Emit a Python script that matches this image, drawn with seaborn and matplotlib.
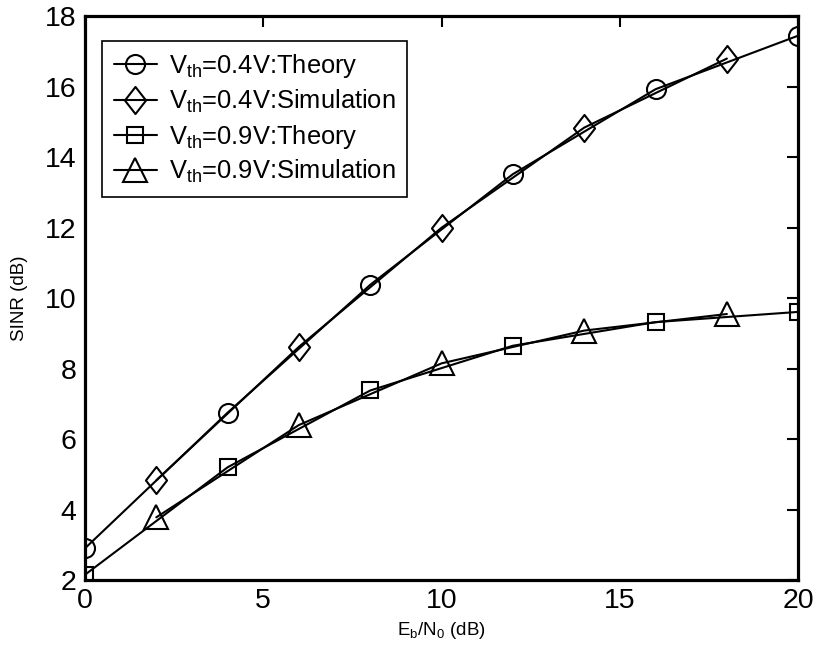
import numpy as np
import pandas as pd
import seaborn as sns
import matplotlib.pyplot as plt
from matplotlib.path import Path

# Eb/N0 points (dB)
ebn0_theory = [0, 4, 8, 12, 16, 20]
ebn0_sim = [2, 6, 10, 14, 18]

# SINR (dB)
sinr_04_theory = [2.9, 6.75, 10.38, 13.52, 15.93, 17.45]
sinr_04_sim = [4.83, 8.62, 12.0, 14.84, 16.8]
sinr_09_theory = [2.15, 5.2, 7.38, 8.65, 9.32, 9.61]
sinr_09_sim = [3.78, 6.4, 8.15, 9.08, 9.55]

labels = [r'$\mathregular{V_{th}}$=0.4V:Theory',
          r'$\mathregular{V_{th}}$=0.4V:Simulation',
          r'$\mathregular{V_{th}}$=0.9V:Theory',
          r'$\mathregular{V_{th}}$=0.9V:Simulation']

sns.set_style('white')
plt.rcParams['font.family'] = ['Liberation Sans', 'DejaVu Sans']
plt.rcParams['mathtext.fontset'] = 'custom'
plt.rcParams['mathtext.rm'] = 'Liberation Sans'
plt.rcParams['text.color'] = 'black'
plt.rcParams['axes.labelcolor'] = 'black'
plt.rcParams['xtick.color'] = 'black'
plt.rcParams['ytick.color'] = 'black'

# MATLAB-like narrow diamond
diamond = Path([(0, 1), (0.78, 0), (0, -1), (-0.78, 0), (0, 1)],
               [Path.MOVETO, Path.LINETO, Path.LINETO, Path.LINETO, Path.CLOSEPOLY])

fig = plt.figure(figsize=(8.17, 6.51), dpi=100)
ax = fig.add_axes([0.104, 0.109, 0.873, 0.866])

series = [
    (ebn0_theory, sinr_04_theory, 'o', 13.7),
    (ebn0_sim, sinr_04_sim, diamond, 19.5),
    (ebn0_theory, sinr_09_theory, 's', 12.2),
    (ebn0_sim, sinr_09_sim, '^', 17.0),
]

for (xs, ys, mk, ms), lab in zip(series, labels):
    df = pd.DataFrame({'x': xs, 'y': ys})
    sns.lineplot(data=df, x='x', y='y', ax=ax, color='black', linewidth=1.5,
                 marker=mk, markersize=ms, markerfacecolor='none',
                 markeredgecolor='black', markeredgewidth=1.5, label=lab)

ax.set_xlim(0, 20)
ax.set_ylim(2, 18)
ax.set_xticks(np.arange(0, 21, 5))
ax.set_yticks(np.arange(2, 19, 2))
ax.tick_params(direction='in', length=8, width=1.5, labelsize=20.5,
               top=True, right=True, pad=6)
for s in ax.spines.values():
    s.set_linewidth(2.3)
    s.set_color('black')

ax.set_xlabel(r'$\mathregular{E_b/N_0}$ (dB)', fontsize=13.5, labelpad=4)
ax.set_ylabel('SINR (dB)', fontsize=13.5, labelpad=12)

leg = ax.legend(loc='upper left', bbox_to_anchor=(0.024, 0.957), borderaxespad=0,
                fontsize=18.4, handlelength=1.7, handletextpad=0.45,
                labelspacing=0.3, borderpad=0.45, fancybox=False, framealpha=1)
leg.get_frame().set_edgecolor('black')
leg.get_frame().set_linewidth(1.2)

fig.savefig('out.png', dpi=100)
